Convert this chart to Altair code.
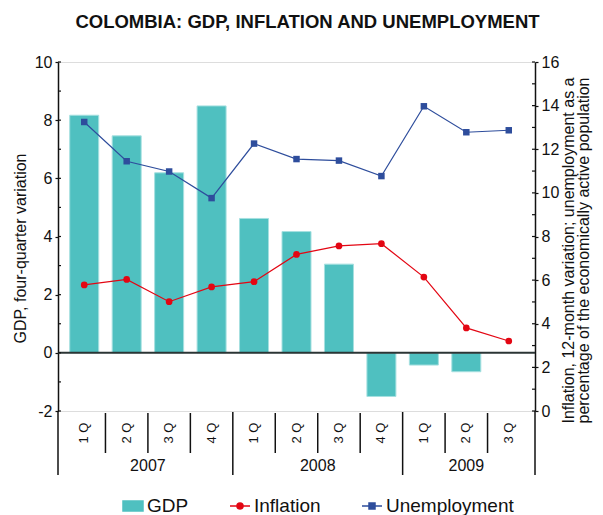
import altair as alt
import pandas as pd

quarters = ["1 Q", "2 Q", "3 Q", "4 Q", "1 Q", "2 Q", "3 Q", "4 Q", "1 Q", "2 Q", "3 Q"]
years = ["2007"] * 4 + ["2008"] * 4 + ["2009"] * 3
gdp = [8.17, 7.46, 6.19, 8.49, 4.62, 4.17, 3.05, -1.50, -0.42, -0.65, None]
inflation = [5.78, 6.03, 5.01, 5.69, 5.93, 7.18, 7.57, 7.67, 6.14, 3.81, 3.21]
unemployment = [13.25, 11.45, 10.98, 9.76, 12.26, 11.55, 11.48, 10.77, 13.97, 12.78, 12.87]
left_ticks = list(range(-2, 11))
right_ticks = list(range(0, 17))
series = ["GDP", "Inflation", "Unemployment"]
colors = ["#4fc0c0", "#e30613", "#2e4d9c"]
symbols = [
    "M-1,-0.5H1V0.5H-1Z",
    "M-1,0H1M0.3,0A0.3,0.3,0,1,1,-0.3,0A0.3,0.3,0,1,1,0.3,0Z",
    "M-1,0H1M-0.3,-0.3H0.3V0.3H-0.3Z",
]

FONT = "Liberation Sans"
W, H = 477, 349

df = pd.DataFrame({
    "idx": list(range(len(quarters))),
    "quarter": quarters,
    "year": years,
    "gdp": gdp,
    "inflation": inflation,
    "unemployment": unemployment,
})

bounds = pd.DataFrame({
    "pos": [i + 0.5 for i in range(len(years) - 1)],
    "yearbreak": [years[i] != years[i + 1] for i in range(len(years) - 1)],
})

xscale = alt.Scale(domain=[-0.5, len(quarters) - 0.5], nice=False, zero=False)
X = alt.X("idx:Q", scale=xscale, axis=None)

lscale = alt.Scale(domain=[-2, 10], nice=False, zero=False)
rscale = alt.Scale(domain=[0, 16], nice=False, zero=False)

left_axis = alt.Axis(
    orient="left", values=list(range(-2, 11, 2)), title="GDP, four-quarter variation",
    tickSize=3, labelPadding=3, grid=False, domainColor="#111", tickColor="#111",
    domainWidth=1.5, tickWidth=1.2, labelFontSize=16, titleFontSize=16,
    titleFontWeight="normal", labelFont=FONT, titleFont=FONT, labelColor="#111",
    titleColor="#111", titleY=186, titlePadding=6, labelExpr="'' + datum.value",
)
right_axis = alt.Axis(
    orient="right", values=list(range(0, 17, 2)),
    title=["Inflation, 12-month variation; unemployment as a",
           "percentage of the economically active population"],
    tickSize=3, labelPadding=3, grid=False, domainColor="#111", tickColor="#111",
    domainWidth=1.5, tickWidth=1.2, labelFontSize=16, titleFontSize=16,
    titleFontWeight="normal", labelFont=FONT, titleFont=FONT, labelColor="#111",
    titleColor="#111", titleAngle=270, titleY=188, titlePadding=3, titleLineHeight=15,
)

base = alt.Chart(df)

bars = base.mark_bar(size=29, color=colors[0], stroke="#a6e0e0", strokeWidth=1).encode(
    x=X, y=alt.Y("gdp:Q", scale=lscale, axis=left_axis)
)
zero = alt.Chart(pd.DataFrame({"z": [0]})).mark_rule(color="#2b3535", strokeWidth=2).encode(
    y=alt.Y("z:Q", scale=lscale, axis=None)
)
lt = alt.Chart(pd.DataFrame({"v": left_ticks})).mark_rule(color="#111", strokeWidth=1.2).encode(
    y=alt.Y("v:Q", scale=lscale, axis=None), x=alt.value(0), x2=alt.value(3)
)
rt = alt.Chart(pd.DataFrame({"v": right_ticks})).mark_rule(color="#111", strokeWidth=1.2).encode(
    y=alt.Y("v:Q", scale=rscale, axis=None), x=alt.value(W - 3), x2=alt.value(W)
)
qsep = alt.Chart(bounds).transform_filter("!datum.yearbreak").mark_rule(
    color="#111", strokeWidth=1.5).encode(
    x=alt.X("pos:Q", scale=xscale, axis=None), y=alt.value(H + 2), y2=alt.value(H + 42)
)
ysep = alt.Chart(bounds).transform_filter("datum.yearbreak").mark_rule(
    color="#111", strokeWidth=1.5).encode(
    x=alt.X("pos:Q", scale=xscale, axis=None), y=alt.value(H + 1), y2=alt.value(H + 64)
)
one = pd.DataFrame({"a": [0]})
axl = alt.Chart(one).mark_rule(color="#111", strokeWidth=1.5).encode(
    x=alt.value(0), y=alt.value(H), y2=alt.value(H + 64)
)
axr = alt.Chart(one).mark_rule(color="#111", strokeWidth=1.5).encode(
    x=alt.value(W), y=alt.value(H), y2=alt.value(H + 64)
)
qlab = base.mark_text(angle=270, fontSize=13, font=FONT, color="#111",
                      align="center", baseline="middle").encode(
    x=X, y=alt.value(H + 22), text="quarter:N"
)
ylab = base.transform_aggregate(xc="mean(idx)", groupby=["year"]).mark_text(
    fontSize=16, font=FONT, color="#111", align="center", baseline="middle").encode(
    x=alt.X("xc:Q", scale=xscale, axis=None), y=alt.value(H + 55), text="year:N"
)

leg = alt.Legend(
    orient="none", legendX=64, legendY=433, direction="horizontal", title=None,
    labelFontSize=19, labelFont=FONT, labelColor="#111", symbolSize=400,
    symbolStrokeWidth=1.5, symbolOpacity=1, columnPadding=38, labelOffset=3, padding=0,
)
legend_pts = alt.Chart(pd.DataFrame({"series": series})).mark_point(
    filled=True, opacity=0, size=400).encode(
    color=alt.Color("series:N", scale=alt.Scale(domain=series, range=colors), legend=leg),
    stroke=alt.Stroke("series:N", scale=alt.Scale(domain=series, range=colors), legend=leg),
    shape=alt.Shape("series:N", scale=alt.Scale(domain=series, range=symbols), legend=leg),
)

infl = base.mark_line(color=colors[1], strokeWidth=1.2,
                      point=alt.OverlayMarkDef(filled=True, size=45, color=colors[1], shape="circle")).encode(
    x=X, y=alt.Y("inflation:Q", scale=rscale, axis=right_axis)
)
unem = base.mark_line(color=colors[2], strokeWidth=1.2,
                      point=alt.OverlayMarkDef(filled=True, size=42, color=colors[2], shape="square")).encode(
    x=X, y=alt.Y("unemployment:Q", scale=rscale, axis=None)
)

chart = alt.layer(
    bars, zero, lt, rt, qsep, ysep, axl, axr, qlab, ylab, legend_pts, infl, unem
).resolve_scale(y="independent").properties(
    width=W, height=H,
    title=alt.TitleParams("COLOMBIA: GDP, INFLATION AND UNEMPLOYMENT", fontSize=18.5,
                          font=FONT, fontWeight="bold", color="#111", anchor="middle",
                          baseline="alphabetic", offset=8, dx=11),
    autosize=alt.AutoSizeParams(type="none"),
    padding={"left": 50, "top": 54, "right": 60, "bottom": 110},
).configure_view(stroke=None).configure(background="white")

chart.save("out.html", embed_options={"renderer": "svg", "actions": False})
